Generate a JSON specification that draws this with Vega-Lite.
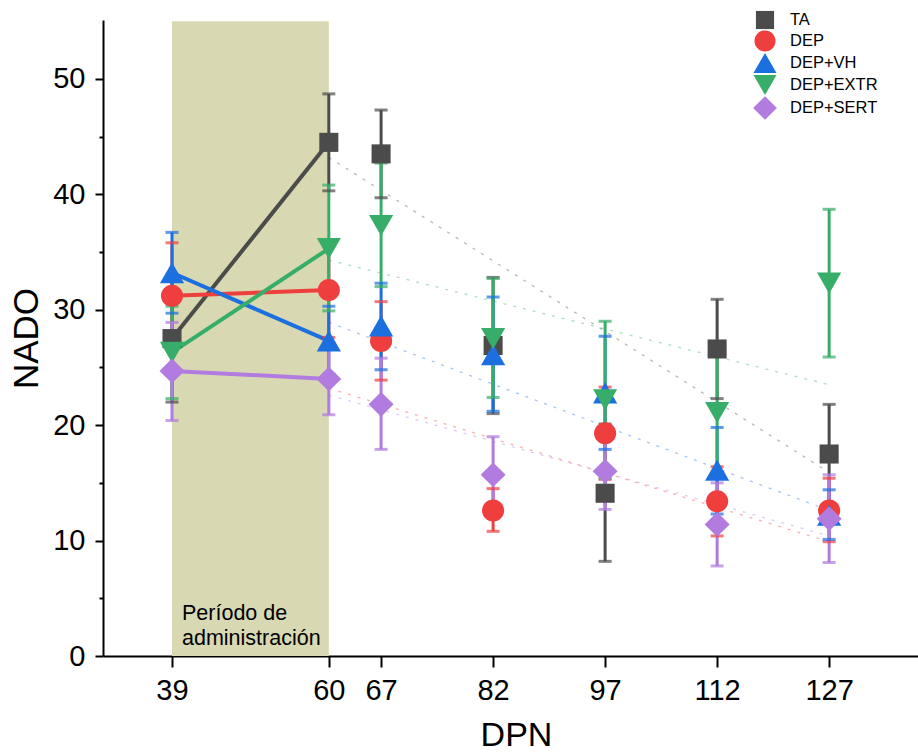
{
  "$schema": "https://vega.github.io/schema/vega-lite/v6.json",
  "width": 815,
  "height": 636,
  "autosize": "none",
  "padding": {"left": 103, "top": 20, "right": 0, "bottom": 97},
  "background": "white",
  "config": {
    "view": {"stroke": null},
    "font": "Liberation Sans",
    "axis": {"grid": false, "domainColor": "black", "tickColor": "black", "labelColor": "black", "titleColor": "black", "domainWidth": 2, "tickWidth": 2, "titleFontWeight": "normal", "labelFont": "Liberation Sans", "titleFont": "Liberation Sans"},
    "legend": {"labelFont": "Liberation Sans"}
  },
  "datasets": {
    "pts": [
      {"g": "TA", "dpn": 39, "m": 27.5, "lo": 22.0, "hi": 33.0},
      {"g": "TA", "dpn": 60, "m": 44.5, "lo": 40.3, "hi": 48.7},
      {"g": "TA", "dpn": 67, "m": 43.5, "lo": 39.7, "hi": 47.3},
      {"g": "TA", "dpn": 82, "m": 26.9, "lo": 21.0, "hi": 32.8},
      {"g": "TA", "dpn": 97, "m": 14.1, "lo": 8.2, "hi": 20.1},
      {"g": "TA", "dpn": 112, "m": 26.6, "lo": 22.3, "hi": 30.9},
      {"g": "TA", "dpn": 127, "m": 17.5, "lo": 13.2, "hi": 21.8},
      {"g": "DEP", "dpn": 39, "m": 31.2, "lo": 26.6, "hi": 35.8},
      {"g": "DEP", "dpn": 60, "m": 31.7, "lo": 27.6, "hi": 35.8},
      {"g": "DEP", "dpn": 67, "m": 27.3, "lo": 23.9, "hi": 30.7},
      {"g": "DEP", "dpn": 82, "m": 12.6, "lo": 10.8, "hi": 14.5},
      {"g": "DEP", "dpn": 97, "m": 19.3, "lo": 15.3, "hi": 23.3},
      {"g": "DEP", "dpn": 112, "m": 13.4, "lo": 10.4, "hi": 16.4},
      {"g": "DEP", "dpn": 127, "m": 12.6, "lo": 9.9, "hi": 15.4},
      {"g": "DEP+VH", "dpn": 39, "m": 33.2, "lo": 29.7, "hi": 36.7},
      {"g": "DEP+VH", "dpn": 60, "m": 27.3, "lo": 24.4, "hi": 30.3},
      {"g": "DEP+VH", "dpn": 67, "m": 28.6, "lo": 24.8, "hi": 32.3},
      {"g": "DEP+VH", "dpn": 82, "m": 26.1, "lo": 21.2, "hi": 31.1},
      {"g": "DEP+VH", "dpn": 97, "m": 22.8, "lo": 17.9, "hi": 27.7},
      {"g": "DEP+VH", "dpn": 112, "m": 16.1, "lo": 12.3, "hi": 19.8},
      {"g": "DEP+VH", "dpn": 127, "m": 12.2, "lo": 10.1, "hi": 14.4},
      {"g": "DEP+EXTR", "dpn": 39, "m": 26.3, "lo": 22.3, "hi": 30.3},
      {"g": "DEP+EXTR", "dpn": 60, "m": 35.3, "lo": 29.9, "hi": 40.8},
      {"g": "DEP+EXTR", "dpn": 67, "m": 37.3, "lo": 32.0, "hi": 42.7},
      {"g": "DEP+EXTR", "dpn": 82, "m": 27.5, "lo": 22.4, "hi": 32.7},
      {"g": "DEP+EXTR", "dpn": 97, "m": 22.2, "lo": 15.4, "hi": 29.0},
      {"g": "DEP+EXTR", "dpn": 112, "m": 21.1, "lo": 15.6, "hi": 26.7},
      {"g": "DEP+EXTR", "dpn": 127, "m": 32.3, "lo": 25.9, "hi": 38.7},
      {"g": "DEP+SERT", "dpn": 39, "m": 24.7, "lo": 20.4, "hi": 28.9},
      {"g": "DEP+SERT", "dpn": 60, "m": 24.0, "lo": 20.9, "hi": 27.1},
      {"g": "DEP+SERT", "dpn": 67, "m": 21.8, "lo": 17.9, "hi": 25.8},
      {"g": "DEP+SERT", "dpn": 82, "m": 15.7, "lo": 12.3, "hi": 19.0},
      {"g": "DEP+SERT", "dpn": 97, "m": 16.0, "lo": 12.7, "hi": 19.3},
      {"g": "DEP+SERT", "dpn": 112, "m": 11.4, "lo": 7.8, "hi": 15.0},
      {"g": "DEP+SERT", "dpn": 127, "m": 11.9, "lo": 8.1, "hi": 15.7}
    ],
    "trend": [
      {"g": "TA", "dpn": 60, "v": 43.2},
      {"g": "TA", "dpn": 127, "v": 15.9},
      {"g": "DEP", "dpn": 60, "v": 23.2},
      {"g": "DEP", "dpn": 127, "v": 9.9},
      {"g": "DEP+VH", "dpn": 60, "v": 28.9},
      {"g": "DEP+VH", "dpn": 127, "v": 12.6},
      {"g": "DEP+EXTR", "dpn": 60, "v": 34.3},
      {"g": "DEP+EXTR", "dpn": 127, "v": 23.5},
      {"g": "DEP+SERT", "dpn": 60, "v": 22.6},
      {"g": "DEP+SERT", "dpn": 127, "v": 10.4}
    ]
  },
  "layer": [
    {
      "data": {"values": [{}]},
      "mark": {"type": "rect", "color": "#d8d8b2"},
      "encoding": {
        "x": {"datum": 39, "type": "quantitative",
          "scale": {"domain": [29.76, 138.9], "nice": false, "zero": false},
          "axis": {"title": "DPN", "values": [39, 60, 67, 82, 97, 112, 127], "labelFontSize": 29, "titleFontSize": 34, "tickSize": 11, "labelPadding": 9, "titlePadding": 13, "titleX": 413, "labelFlush": false}},
        "x2": {"datum": 60},
        "y": {"datum": 0, "type": "quantitative",
          "scale": {"domain": [0, 55.1], "nice": false, "zero": false},
          "axis": {"title": "NADO", "values": [0, 5, 10, 15, 20, 25, 30, 35, 40, 45, 50],
            "labelExpr": "datum.value % 10 === 0 ? datum.label : ''",
            "tickSize": {"condition": {"test": "datum.value % 10 === 0", "value": 8}, "value": 4},
            "labelFontSize": 29, "titleFontSize": 35, "labelPadding": 10, "titlePadding": 8}},
        "y2": {"datum": 55}
      }
    },
    {
      "data": {"values": [{}]},
      "mark": {"type": "text", "text": ["Período de", "administración"], "align": "left", "baseline": "bottom", "dx": 10, "dy": -31, "fontSize": 21.5, "lineHeight": 25, "color": "black"},
      "encoding": {
        "x": {"datum": 39, "type": "quantitative"},
        "y": {"datum": 0, "type": "quantitative"}
      }
    },
    {
      "data": {"name": "trend"},
      "mark": {"type": "line", "strokeWidth": 1.3, "strokeDash": [3, 7], "opacity": 0.4},
      "encoding": {
        "x": {"field": "dpn", "type": "quantitative"},
        "y": {"field": "v", "type": "quantitative"},
        "detail": {"field": "g"},
        "stroke": {"field": "g", "type": "nominal", "legend": null,
          "scale": {"range": ["#ef3e3e", "#37ad6a", "#b17be0", "#1b6fdf", "#4b4b4b"]}}
      }
    },
    {
      "data": {"name": "pts"},
      "transform": [{"filter": "datum.dpn <= 60"}],
      "mark": {"type": "line", "strokeWidth": 4},
      "encoding": {
        "x": {"field": "dpn", "type": "quantitative"},
        "y": {"field": "m", "type": "quantitative"},
        "detail": {"field": "g"},
        "stroke": {"field": "g", "type": "nominal", "legend": null}
      }
    },
    {
      "data": {"name": "pts"},
      "mark": {"type": "rule", "strokeWidth": 3},
      "encoding": {
        "x": {"field": "dpn", "type": "quantitative"},
        "y": {"field": "lo", "type": "quantitative"},
        "y2": {"field": "hi"},
        "stroke": {"field": "g", "type": "nominal", "legend": null}
      }
    },
    {
      "data": {"name": "pts"},
      "mark": {"type": "tick", "orient": "horizontal", "size": 13, "thickness": 3},
      "encoding": {
        "x": {"field": "dpn", "type": "quantitative"},
        "y": {"field": "lo", "type": "quantitative"},
        "fill": {"field": "g", "type": "nominal", "legend": null,
          "scale": {"range": ["#ef3e3e", "#37ad6a", "#b17be0", "#1b6fdf", "#4b4b4b"]}}
      }
    },
    {
      "data": {"name": "pts"},
      "mark": {"type": "tick", "orient": "horizontal", "size": 13, "thickness": 3},
      "encoding": {
        "x": {"field": "dpn", "type": "quantitative"},
        "y": {"field": "hi", "type": "quantitative"},
        "fill": {"field": "g", "type": "nominal", "legend": null}
      }
    },
    {
      "data": {"name": "pts"},
      "mark": {"type": "point", "filled": true, "opacity": 1, "size": 420, "strokeWidth": 0},
      "encoding": {
        "x": {"field": "dpn", "type": "quantitative"},
        "y": {"field": "m", "type": "quantitative"},
        "color": {"field": "g", "type": "nominal",
          "scale": {"domain": ["TA", "DEP", "DEP+VH", "DEP+EXTR", "DEP+SERT"], "range": ["#4b4b4b", "#ef3e3e", "#1b6fdf", "#37ad6a", "#b17be0"]},
          "legend": {"title": null, "orient": "none", "legendX": 652, "legendY": -10, "symbolSize": 380, "symbolStrokeWidth": 0, "labelFontSize": 16.5, "labelOffset": 15, "rowPadding": 0, "padding": 0, "labelColor": "black"}},
        "shape": {"field": "g", "type": "nominal",
          "scale": {"domain": ["TA", "DEP", "DEP+VH", "DEP+EXTR", "DEP+SERT"],
            "range": ["M-0.93,-0.93H0.93V0.93H-0.93Z", "M-1.08,0A1.08,1.08 0 1,0 1.08,0A1.08,1.08 0 1,0 -1.08,0Z", "M0,-1.03L1.18,1.03L-1.18,1.03Z", "M0,1.03L1.18,-1.03L-1.18,-1.03Z", "M0,-1.2L1.22,0L0,1.2L-1.22,0Z"]},
          "legend": {"title": null, "orient": "none", "legendX": 652, "legendY": -10, "symbolSize": 380, "symbolStrokeWidth": 0, "labelFontSize": 16.5, "labelOffset": 15, "rowPadding": 0, "padding": 0, "labelColor": "black"}}
      }
    }
  ]
}
